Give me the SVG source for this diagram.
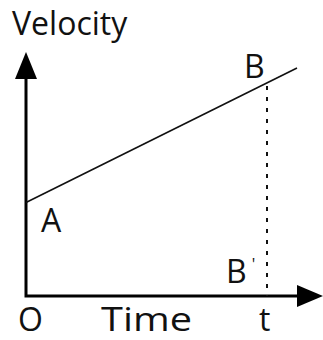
<svg xmlns="http://www.w3.org/2000/svg" width="323" height="340" viewBox="0 0 323 340">
  <style>
    .lbl { font-family: "Open Sans", "Liberation Sans", sans-serif; font-size: 32px; fill: #111; }
    .axis { stroke: #000; stroke-width: 3; fill: none; }
  </style>
  <rect width="323" height="340" fill="#fff"/>
  <g id="axes">
    <polyline class="axis" points="26,78 26,296 298,296"/>
    <polygon points="26,52 15,79 37,79" fill="#000"/>
    <polygon points="323,296 297,285 297,307" fill="#000"/>
  </g>
  <g id="lines">
    <line x1="26" y1="202.5" x2="297" y2="68" stroke="#111" stroke-width="1.6"/>
    <line x1="267" y1="86" x2="267" y2="296" stroke="#111" stroke-width="2" stroke-dasharray="4 7"/>
  </g>
  <g id="labels">
    <text class="lbl" x="12" y="35">Velocity</text>
    <text class="lbl" x="244" y="78">B</text>
    <text class="lbl" x="41" y="232">A</text>
    <text class="lbl" x="226" y="283">B<tspan font-size="16" dx="5" dy="-13">'</tspan></text>
    <text class="lbl" x="18" y="331">O</text>
    <text class="lbl" x="101" y="331" textLength="91" lengthAdjust="spacingAndGlyphs">Time</text>
    <text class="lbl" x="259" y="331">t</text>
  </g>
</svg>
